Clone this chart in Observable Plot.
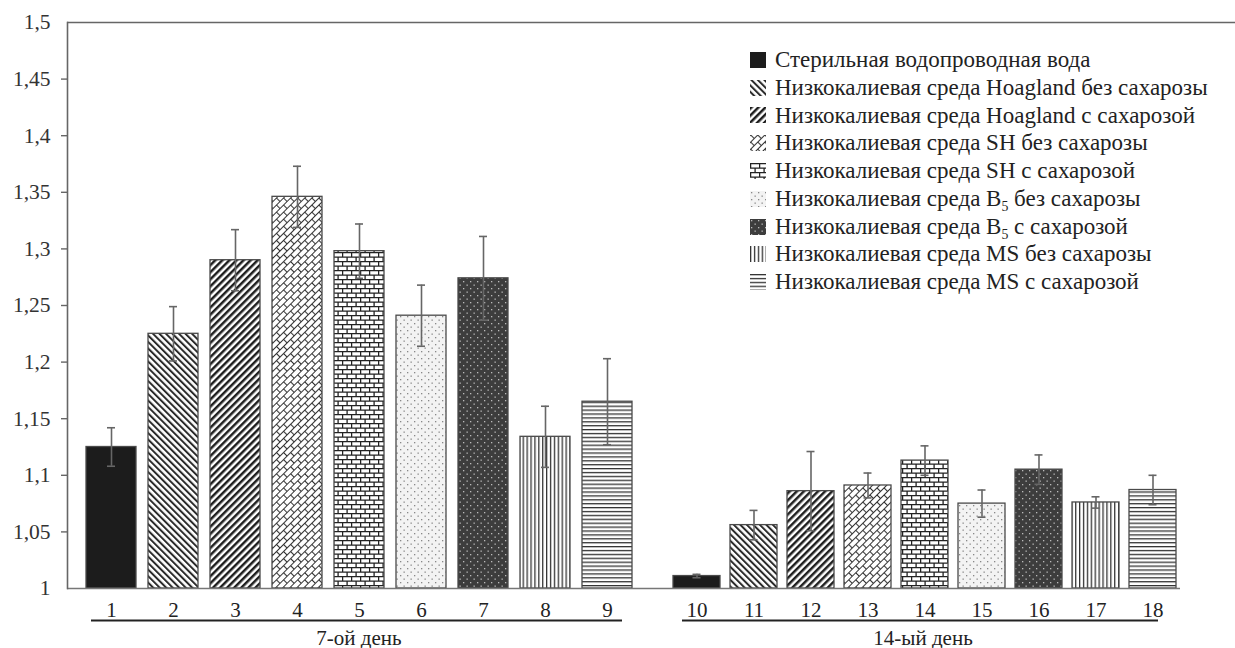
<!DOCTYPE html>
<html>
<head>
<meta charset="utf-8">
<script src="https://cdn.jsdelivr.net/npm/d3@7"></script>
<script src="https://cdn.jsdelivr.net/npm/@observablehq/plot@0.6"></script>
<style>
  body { margin: 0; background: #fff; overflow: hidden; }
  #chart { position: relative; width: 1235px; height: 648px; font-family: "Liberation Serif", "Times New Roman", serif; color: #222; }
  #legend { position: absolute; left: 750px; top: 46px; font-size: 23px; line-height: 28px; color: #222; z-index: 2; }
  #legend .row { display: flex; align-items: center; height: 27.8px; white-space: nowrap; }
  #legend .row svg { width: 16px; height: 16px; margin-right: 9px; flex: none; }
  #legend sub { font-size: 0.6em; vertical-align: -0.35em; line-height: 0; }
</style>
</head>
<body>
<!-- fill patterns shared by the bars and the legend swatches -->
<svg width="0" height="0" style="position:absolute">
  <defs>
    <pattern id="hoaglandNo" patternUnits="userSpaceOnUse" width="4.6" height="4.6" patternTransform="rotate(-45)">
      <rect width="4.6" height="4.6" fill="#fff"/><rect width="2" height="4.6" fill="#2a2a2a"/>
    </pattern>
    <pattern id="hoaglandSuc" patternUnits="userSpaceOnUse" width="5" height="5" patternTransform="rotate(45)">
      <rect width="5" height="5" fill="#fff"/><rect width="2.5" height="5" fill="#1e1e1e"/>
    </pattern>
    <pattern id="shNo" patternUnits="userSpaceOnUse" width="10" height="10" patternTransform="rotate(-45)">
      <rect width="10" height="10" fill="#fff"/>
      <path d="M0 0.5H10M0 5.5H10M0.5 0.5V5.5M5.5 5.5V10.5" stroke="#333" stroke-width="1.1" fill="none"/>
    </pattern>
    <pattern id="shSuc" patternUnits="userSpaceOnUse" width="9" height="9">
      <rect width="9" height="9" fill="#fff"/>
      <path d="M0 0.6H9M0 5.1H9M0.6 0.6V5.1M5.1 5.1V9.6" stroke="#222" stroke-width="1.3" fill="none"/>
    </pattern>
    <pattern id="b5No" patternUnits="userSpaceOnUse" width="7" height="7">
      <rect width="7" height="7" fill="#f3f3f3"/>
      <rect x="1" y="1" width="1.3" height="1.3" fill="#888"/><rect x="4.5" y="4.5" width="1.3" height="1.3" fill="#888"/>
    </pattern>
    <pattern id="b5Suc" patternUnits="userSpaceOnUse" width="7" height="7">
      <rect width="7" height="7" fill="#3d3d3d"/>
      <rect x="1" y="1" width="1.3" height="1.3" fill="#bbb"/><rect x="4.5" y="4.5" width="1.3" height="1.3" fill="#bbb"/>
    </pattern>
    <pattern id="msNo" patternUnits="userSpaceOnUse" width="3.9" height="4">
      <rect width="3.9" height="4" fill="#fff"/><rect width="1.3" height="4" fill="#333"/>
    </pattern>
    <pattern id="msSuc" patternUnits="userSpaceOnUse" width="4" height="3.9">
      <rect width="4" height="3.9" fill="#fff"/><rect width="4" height="1.3" fill="#333"/>
    </pattern>
  </defs>
</svg>

<div id="chart"><div id="legend"></div></div>

<script>
// Treatments (legend order, same order within each day)
const treatments = [
  "Стерильная водопроводная вода",
  "Низкокалиевая среда Hoagland без сахарозы",
  "Низкокалиевая среда Hoagland с сахарозой",
  "Низкокалиевая среда SH без сахарозы",
  "Низкокалиевая среда SH с сахарозой",
  "Низкокалиевая среда B5 без сахарозы",
  "Низкокалиевая среда B5 с сахарозой",
  "Низкокалиевая среда MS без сахарозы",
  "Низкокалиевая среда MS с сахарозой"
];

// Bar numbers shown under each bar
const barNumbers7 = ["1", "2", "3", "4", "5", "6", "7", "8", "9"];
const barNumbers14 = ["10", "11", "12", "13", "14", "15", "16", "17", "18"];

// Group labels
const dayLabels = ["7-ой день", "14-ый день"];

// Mean values and error half-widths
const means7  = [1.125, 1.225, 1.290, 1.346, 1.298, 1.241, 1.274, 1.134, 1.165];
const errors7 = [0.017, 0.024, 0.027, 0.027, 0.024, 0.027, 0.037, 0.027, 0.038];
const means14  = [1.011, 1.056, 1.086, 1.091, 1.113, 1.075, 1.105, 1.076, 1.087];
const errors14 = [0.0015, 0.013, 0.035, 0.011, 0.013, 0.012, 0.013, 0.005, 0.013];

// Y axis
const yDomain = [1, 1.5];
const yTicks = [1, 1.05, 1.1, 1.15, 1.2, 1.25, 1.3, 1.35, 1.4, 1.45, 1.5];

// Fill for each treatment
const fills = ["#1c1c1c", "url(#hoaglandNo)", "url(#hoaglandSuc)", "url(#shNo)", "url(#shSuc)",
               "url(#b5No)", "url(#b5Suc)", "url(#msNo)", "url(#msSuc)"];

const fmt = d => String(+d.toFixed(2)).replace(".", ",");
const H = 648, MT = 22, MB = 60;
const FONT = 21;

function rowsFor(nums, means, errors) {
  return nums.map((n, i) => ({num: n, treatment: treatments[i], fill: fills[i], mean: means[i], err: errors[i]}));
}

function groupMarks(rows, o) {
  const ink = "#222";
  return [
    Plot.barY(rows, {x: "num", y1: yDomain[0], y2: "mean", fill: "fill", stroke: "#4a4a4a", strokeWidth: 1.3}),
    Plot.ruleX(rows, {x: "num", y1: d => d.mean - d.err, y2: d => d.mean + d.err, stroke: "#666", strokeWidth: 1.6}),
    Plot.tickY(rows, {x: "num", y: d => d.mean + d.err, insetLeft: o.cap, insetRight: o.cap, stroke: "#666", strokeWidth: 1.6}),
    Plot.tickY(rows, {x: "num", y: d => d.mean - d.err, insetLeft: o.cap, insetRight: o.cap, stroke: "#666", strokeWidth: 1.6}),
    // baseline and top frame line
    Plot.ruleY([yDomain[0]], {stroke: "#777", strokeWidth: 1.6, insetRight: o.baseInsetRight}),
    Plot.ruleY([yDomain[1]], {stroke: "#666", strokeWidth: 1.6}),
    // bar numbers
    Plot.text(rows, {x: "num", text: "num", frameAnchor: "bottom", dy: 22, lineAnchor: "middle", fontSize: FONT, fill: ink}),
    // group underline and group label
    Plot.ruleY([yDomain[0]], {dy: 32, insetLeft: o.lineInsetLeft, insetRight: o.lineInsetRight, stroke: ink, strokeWidth: 2}),
    Plot.text([o.label], {frameAnchor: "bottom", dy: 50, dx: o.labelDx, lineAnchor: "middle", fontSize: FONT, fill: ink})
  ];
}

const style = {fontFamily: '"Liberation Serif", "Times New Roman", serif', fontSize: FONT + "px", color: "#333", background: "transparent", overflow: "visible"};

// Day 7 panel with the y axis
const plot7 = Plot.plot({
  width: 650, height: H, marginTop: MT, marginBottom: MB, marginLeft: 67, marginRight: 0,
  style,
  x: {domain: barNumbers7, paddingInner: 0.196, paddingOuter: 0.285, axis: null},
  y: {domain: yDomain, label: null},
  marks: [
    ...groupMarks(rowsFor(barNumbers7, means7, errors7), {cap: 21, baseInsetRight: 0, lineInsetLeft: 24, lineInsetRight: 28, label: dayLabels[0], labelDx: 0}),
    Plot.axisY(yTicks, {tickSize: 0, tickPadding: 17, tickFormat: fmt, fontSize: 21.5, fill: "#333", label: null}),
    Plot.axisY(yTicks.slice(1, -1), {tickSize: 6, tickFormat: () => "", stroke: "#666", strokeWidth: 1.4, label: null}),
    Plot.frame({anchor: "left", stroke: "#666", strokeWidth: 1.6})
  ]
});

// Day 14 panel
const plot14 = Plot.plot({
  width: 585, height: H, marginTop: MT, marginBottom: MB, marginLeft: 0, marginRight: 0,
  style,
  x: {domain: barNumbers14, range: [11.6, 538.4], paddingInner: 0.175, paddingOuter: 0.2, axis: null},
  y: {domain: yDomain, axis: null},
  marks: groupMarks(rowsFor(barNumbers14, means14, errors14), {cap: 19.5, baseInsetRight: 55, lineInsetLeft: 32, lineInsetRight: 77, label: dayLabels[1], labelDx: -20})
});

const chart = document.getElementById("chart");
for (const [svg, left] of [[plot7, 0], [plot14, 650]]) {
  svg.style.position = "absolute";
  svg.style.left = left + "px";
  svg.style.top = "0px";
  chart.appendChild(svg);
}

// Legend
const legend = document.getElementById("legend");
treatments.forEach((t, i) => {
  const row = document.createElement("div");
  row.className = "row";
  row.innerHTML = `<svg viewBox="0 0 16 16"><rect width="16" height="16" fill="${fills[i]}"/></svg>` +
    `<span>${t.replace("B5", "B<sub>5</sub>")}</span>`;
  legend.appendChild(row);
});
</script>
</body>
</html>
